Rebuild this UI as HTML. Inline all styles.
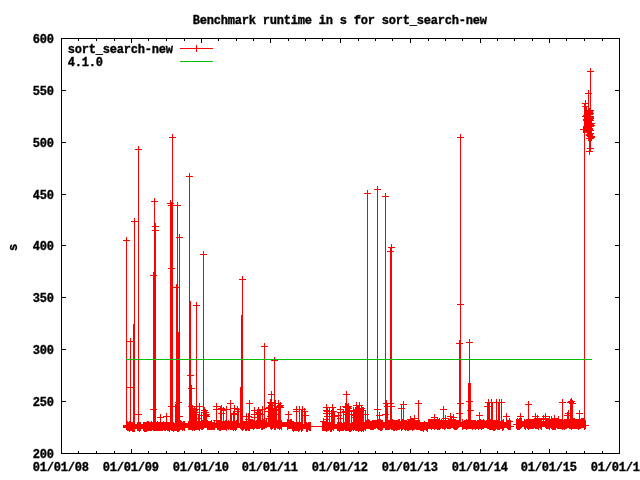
<!DOCTYPE html>
<html><head><meta charset="utf-8"><title>Benchmark runtime in s for sort_search-new</title>
<style>html,body{margin:0;padding:0;background:#fff}svg{display:block}text{fill:#000}</style></head>
<body>
<svg width="640" height="480" viewBox="0 0 640 480">
<rect width="640" height="480" fill="#ffffff"/>
<g shape-rendering="crispEdges" fill="none" stroke-width="1">
<path stroke="#ff0000" d="M123 240.5h7M126.5 237v7M126.5 240V427M127 341.5h7M130.5 338v7M130.5 341V427M131 221.5h7M134.5 218v7M134.5 221V427M135 149.5h7M138.5 146v7M138.5 149V427M135 414.5h7M138.5 411v7M138.5 414V427M150 275.5h7M153.5 272v7M153.5 275V427M150 409.5h7M153.5 406v7M153.5 409V427M151 201.5h7M154.5 198v7M154.5 201V427M152 226.5h7M155.5 223v7M155.5 226V427M152 230.5h7M155.5 227v7M155.5 230V427M157 417.5h7M160.5 414v7M160.5 417V427M163 416.5h7M166.5 413v7M166.5 416V427M167 203.5h7M170.5 200v7M170.5 203V427M168 205.5h7M171.5 202v7M171.5 205V427M169 137.5h7M172.5 134v7M172.5 137V427M168 268.5h7M171.5 265v7M171.5 268V427M168 406.5h7M171.5 403v7M171.5 406V427M173 287.5h7M176.5 284v7M176.5 287V427M174 205.5h7M177.5 202v7M177.5 205V427M175 402.5h7M178.5 399v7M178.5 402V427M176 237.5h7M179.5 234v7M179.5 237V427M176 416.5h7M179.5 413v7M179.5 416V427M186 176.5h7M189.5 173v7M189.5 176V426M187 375.5h7M190.5 372v7M190.5 375V426M188 388.5h7M191.5 385v7M191.5 388V426M189 408.5h7M192.5 405v7M192.5 408V426M193 305.5h7M196.5 302v7M196.5 305V426M200 254.5h7M203.5 251v7M203.5 254V426M191 410.5h7M194.5 407v7M194.5 410V426M193 412.5h7M196.5 409v7M196.5 412V426M196 406.5h7M199.5 403v7M199.5 406V426M198 415.5h7M201.5 412v7M201.5 415V426M201 410.5h7M204.5 407v7M204.5 410V426M203 416.5h7M206.5 413v7M206.5 416V426M195 418.5h7M198.5 415v7M198.5 418V426M213 406.5h7M216.5 403v7M216.5 406V426M213 420.5h7M216.5 417v7M216.5 420V426M217 409.5h7M220.5 406v7M220.5 409V426M220 410.5h7M223.5 407v7M223.5 410V426M223 409.5h7M226.5 406v7M226.5 409V426M227 403.5h7M230.5 400v7M230.5 403V426M230 414.5h7M233.5 411v7M233.5 414V426M234 409.5h7M237.5 406v7M237.5 409V426M235 411.5h7M238.5 408v7M238.5 411V426M239 279.5h7M242.5 276v7M242.5 279V426M243 416.5h7M246.5 413v7M246.5 416V426M246 403.5h7M249.5 400v7M249.5 403V426M251 410.5h7M254.5 407v7M254.5 410V425M254 412.5h7M257.5 409v7M257.5 412V425M259 409.5h7M262.5 406v7M262.5 409V425M256 413.5h7M259.5 410v7M259.5 413V425M261 346.5h7M264.5 343v7M264.5 346V425M268 394.5h7M271.5 391v7M271.5 394V425M271 360.5h7M274.5 357v7M274.5 360V425M265 408.5h7M268.5 405v7M268.5 408V425M267 402.5h7M270.5 399v7M270.5 402V425M269 405.5h7M272.5 402v7M272.5 405V425M272 403.5h7M275.5 400v7M275.5 403V425M275 403.5h7M278.5 400v7M278.5 403V425M277 407.5h7M280.5 404v7M280.5 407V425M273 410.5h7M276.5 407v7M276.5 410V425M270 412.5h7M273.5 409v7M273.5 412V425M285 414.5h7M288.5 411v7M288.5 414V425M293 409.5h7M296.5 406v7M296.5 409V427M296 409.5h7M299.5 406v7M299.5 409V427M299 409.5h7M302.5 406v7M302.5 409V427M302 415.5h7M305.5 412v7M305.5 415V427M320 421.5h7M323.5 418v7M323.5 421V427M323 407.5h7M326.5 404v7M326.5 407V427M323 410.5h7M326.5 407v7M326.5 410V427M323 413.5h7M326.5 410v7M326.5 413V427M324 416.5h7M327.5 413v7M327.5 416V427M326 411.5h7M329.5 408v7M329.5 411V427M329 407.5h7M332.5 404v7M332.5 407V427M328 413.5h7M331.5 410v7M331.5 413V427M330 416.5h7M333.5 413v7M333.5 416V427M335 415.5h7M338.5 412v7M338.5 415V427M337 418.5h7M340.5 415v7M340.5 418V427M342 406.5h7M345.5 403v7M345.5 406V427M343 394.5h7M346.5 391v7M346.5 394V427M345 406.5h7M348.5 403v7M348.5 406V427M340 412.5h7M343.5 409v7M343.5 412V427M346 411.5h7M349.5 408v7M349.5 411V427M343 414.5h7M346.5 411v7M346.5 414V427M350 410.5h7M353.5 407v7M353.5 410V427M353 405.5h7M356.5 402v7M356.5 405V427M356 405.5h7M359.5 402v7M359.5 405V427M358 408.5h7M361.5 405v7M361.5 408V427M359 410.5h7M362.5 407v7M362.5 410V427M354 412.5h7M357.5 409v7M357.5 412V427M362 414.5h7M365.5 411v7M365.5 414V427M364 193.5h7M367.5 190v7M367.5 193V425M374 189.5h7M377.5 186v7M377.5 189V425M374 409.5h7M377.5 406v7M377.5 409V425M376 415.5h7M379.5 412v7M379.5 415V425M382 196.5h7M385.5 193v7M385.5 196V425M382 414.5h7M385.5 411v7M385.5 414V425M383 403.5h7M386.5 400v7M386.5 403V425M384 406.5h7M387.5 403v7M387.5 406V425M387 251.5h7M390.5 248v7M390.5 251V425M388 247.5h7M391.5 244v7M391.5 247V425M387 403.5h7M390.5 400v7M390.5 403V425M388 406.5h7M391.5 403v7M391.5 406V425M398 408.5h7M401.5 405v7M401.5 408V425M400 404.5h7M403.5 401v7M403.5 404V425M411 418.5h7M414.5 415v7M414.5 418V425M407 419.5h7M410.5 416v7M410.5 419V425M415 403.5h7M418.5 400v7M418.5 403V425M431 417.5h7M434.5 414v7M434.5 417V424M440 409.5h7M443.5 406v7M443.5 409V425M442 418.5h7M445.5 415v7M445.5 418V425M447 416.5h7M450.5 413v7M450.5 416V425M450 417.5h7M453.5 414v7M453.5 417V425M456 343.5h7M459.5 340v7M459.5 343V425M456 413.5h7M459.5 410v7M459.5 413V425M457 137.5h7M460.5 134v7M460.5 137V425M457 304.5h7M460.5 301v7M460.5 304V425M457 403.5h7M460.5 400v7M460.5 403V425M466 342.5h7M469.5 339v7M469.5 342V425M466 401.5h7M469.5 398v7M469.5 401V425M467 410.5h7M470.5 407v7M470.5 410V425M476 415.5h7M479.5 412v7M479.5 415V425M484 406.5h7M487.5 403v7M487.5 406V425M485 402.5h7M488.5 399v7M488.5 402V425M488 402.5h7M491.5 399v7M491.5 402V425M493 402.5h7M496.5 399v7M496.5 402V425M496 402.5h7M499.5 399v7M499.5 402V425M498 402.5h7M501.5 399v7M501.5 402V425M503 416.5h7M506.5 413v7M506.5 416V425M506 421.5h7M509.5 418v7M509.5 421V425M517 416.5h7M520.5 413v7M520.5 416V424M525 404.5h7M528.5 401v7M528.5 404V424M532 416.5h7M535.5 413v7M535.5 416V424M534 418.5h7M537.5 415v7M537.5 418V424M542 416.5h7M545.5 413v7M545.5 416V424M548 419.5h7M551.5 416v7M551.5 419V424M551 418.5h7M554.5 415v7M554.5 418V424M555 419.5h7M558.5 416v7M558.5 419V424M559 402.5h7M562.5 399v7M562.5 402V424M564 415.5h7M567.5 412v7M567.5 415V424M565 413.5h7M568.5 410v7M568.5 413V424M567 402.5h7M570.5 399v7M570.5 402V424M568 401.5h7M571.5 398v7M571.5 401V424M569 403.5h7M572.5 400v7M572.5 403V424M576 413.5h7M579.5 410v7M579.5 413V424M133.5 324V427M175.5 404V427M178.5 332V427M190.5 301V426M241.5 315V426M240.5 387V426M468.5 383V425M470.5 383V425M584.5 103V424M489.5 402V425M492.5 402V425M498.5 402V425M126 387.5H134M191.5 406V426M188 406.5h7M191.5 403v7M193.5 408V426M190 415.5h7M193.5 412v7M195.5 414V426M192 414.5h7M195.5 411v7M196.5 406V426M193 406.5h7M196.5 403v7M193 409.5h7M196.5 406v7M204.5 410V426M201 410.5h7M204.5 407v7M205.5 412V426M202 412.5h7M205.5 409v7M202 415.5h7M205.5 412v7M206.5 414V426M203 414.5h7M206.5 411v7M216.5 409V426M213 409.5h7M216.5 406v7M221.5 408V426M218 408.5h7M221.5 405v7M218 413.5h7M221.5 410v7M230.5 416V426M231.5 414V426M234.5 408V426M231 408.5h7M234.5 405v7M231 413.5h7M234.5 410v7M248.5 416V426M245 416.5h7M248.5 413v7M245 419.5h7M248.5 416v7M254.5 414V425M251 414.5h7M254.5 411v7M251 417.5h7M254.5 414v7M258.5 410V425M255 410.5h7M258.5 407v7M260.5 414V425M257 414.5h7M260.5 411v7M268.5 411V425M265 411.5h7M268.5 408v7M265 418.5h7M268.5 415v7M269.5 404V425M266 407.5h7M269.5 404v7M270.5 411V425M267 411.5h7M270.5 408v7M267 416.5h7M270.5 413v7M271.5 403V425M268 403.5h7M271.5 400v7M272.5 409V425M269 409.5h7M272.5 406v7M269 414.5h7M272.5 411v7M273.5 411V425M270 411.5h7M273.5 408v7M275.5 407V425M272 414.5h7M275.5 411v7M276.5 409V425M273 409.5h7M276.5 406v7M279.5 406V425M276 406.5h7M279.5 403v7M280.5 405V425M277 405.5h7M280.5 402v7M296.5 411V427M293 411.5h7M296.5 408v7M301.5 410V427M304.5 411V427M301 411.5h7M304.5 408v7M326.5 414V427M323 419.5h7M326.5 416v7M327.5 411V427M324 411.5h7M327.5 408v7M329.5 411V427M326 411.5h7M329.5 408v7M332.5 416V427M333.5 411V427M330 411.5h7M333.5 408v7M334.5 411V427M331 416.5h7M334.5 413v7M340.5 409V427M337 409.5h7M340.5 406v7M337 412.5h7M340.5 409v7M345.5 406V427M342 406.5h7M345.5 403v7M342 411.5h7M345.5 408v7M346.5 407V427M343 407.5h7M346.5 404v7M343 414.5h7M346.5 411v7M347.5 407V427M344 407.5h7M347.5 404v7M348.5 408V427M345 408.5h7M348.5 405v7M351.5 414V427M348 414.5h7M351.5 411v7M353.5 414V427M350 414.5h7M353.5 411v7M354.5 414V427M351 414.5h7M354.5 411v7M351 417.5h7M354.5 414v7M355.5 410V427M352 410.5h7M355.5 407v7M352 415.5h7M355.5 412v7M356.5 412V427M353 412.5h7M356.5 409v7M357.5 409V427M354 409.5h7M357.5 406v7M354 414.5h7M357.5 411v7M358.5 408V427M355 408.5h7M358.5 405v7M360.5 410V427M361.5 408V427M358 408.5h7M361.5 405v7M363.5 407V427M532.5 419V424M543.5 418V424M540 418.5h7M543.5 415v7M545.5 423V424M542 423.5h7M545.5 420v7M542 419.5h7M545.5 416v7M547.5 418V424M549.5 421V424M546 419.5h7M549.5 416v7M552.5 423V426M549 425.5h7M552.5 422v7M451.5 419V425M448 419.5h7M451.5 416v7M582 103.5h7M585.5 100v7M582 106.5h7M585.5 103v7M585 93.5h7M588.5 90v7M587 71.5h7M590.5 68v7M587 148.5h7M590.5 145v7M586 151.5h7M589.5 148v7M580 129.5h7M583.5 126v7M587 110.5h7M590.5 107v7M586 111.5h7M589.5 108v7M586 112.5h7M589.5 109v7M586 114.5h7M589.5 111v7M586 113.5h7M589.5 110v7M583 115.5h7M586.5 112v7M583 116.5h7M586.5 113v7M587 113.5h7M590.5 110v7M587 117.5h7M590.5 114v7M583 115.5h7M586.5 112v7M587 116.5h7M590.5 113v7M586 118.5h7M589.5 115v7M582 116.5h7M585.5 113v7M584 117.5h7M587.5 114v7M583 120.5h7M586.5 117v7M587 120.5h7M590.5 117v7M584 119.5h7M587.5 116v7M587 118.5h7M590.5 115v7M586 119.5h7M589.5 116v7M583 119.5h7M586.5 116v7M585 122.5h7M588.5 119v7M583 120.5h7M586.5 117v7M585 122.5h7M588.5 119v7M588 123.5h7M591.5 120v7M587 124.5h7M590.5 121v7M584 124.5h7M587.5 121v7M585 123.5h7M588.5 120v7M586 124.5h7M589.5 121v7M584 125.5h7M587.5 122v7M586 128.5h7M589.5 125v7M588 125.5h7M591.5 122v7M586 129.5h7M589.5 126v7M587 126.5h7M590.5 123v7M587 130.5h7M590.5 127v7M587 130.5h7M590.5 127v7M585 128.5h7M588.5 125v7M584 131.5h7M587.5 128v7M585 130.5h7M588.5 127v7M585 130.5h7M588.5 127v7M585 131.5h7M588.5 128v7M587 133.5h7M590.5 130v7M585 132.5h7M588.5 129v7M586 134.5h7M589.5 131v7M586 134.5h7M589.5 131v7M586 135.5h7M589.5 132v7M588 136.5h7M591.5 133v7M588 137.5h7M591.5 134v7M588 137.5h7M591.5 134v7M586 138.5h7M589.5 135v7M587 138.5h7M590.5 135v7M590.5 71V141M588.5 93V141M585.5 103V131M586.5 106V133M590.5 138V149M589.5 138V152M584 110.5H591M584 111.5H591M585 112.5H591M585 113.5H591M585 114.5H591M585 115.5H591M585 116.5H591M585 117.5H591M585 118.5H591M585 119.5H591M586 120.5H591M586 121.5H591M586 122.5H591M586 123.5H592M586 124.5H592M586 125.5H592M586 126.5H592M586 127.5H592M586 128.5H592M587 129.5H592M587 130.5H592M587 131.5H592M587 132.5H592M587 133.5H592M587 134.5H592M587 135.5H592M587 136.5H593M588 137.5H593M588 138.5H593"/>
<path stroke="#ff0000" d="M126.5 423V430M127.5 421V431M128.5 422V431M129.5 421V432M130.5 422V431M131.5 422V431M132.5 422V432M133.5 421V432M134.5 422V432M135.5 424V429M136.5 424V429M137.5 422V431M138.5 421V431M139.5 422V432M140.5 422V431M141.5 424V429M142.5 424V429M143.5 422V431M144.5 422V432M145.5 422V432M146.5 422V432M147.5 421V431M148.5 421V431M149.5 422V431M150.5 422V431M151.5 421V431M152.5 422V430M153.5 422V431M154.5 422V431M155.5 422V431M156.5 422V431M157.5 421V431M158.5 422V431M159.5 422V431M160.5 422V431M161.5 422V431M162.5 422V431M163.5 421V430M164.5 422V431M165.5 422V431M166.5 422V430M167.5 422V431M168.5 422V431M169.5 422V432M170.5 421V430M171.5 421V431M172.5 422V431M173.5 422V432M174.5 423V431M175.5 421V431M176.5 421V431M177.5 422V432M178.5 422V432M179.5 422V431M180.5 420V430M181.5 421V430M182.5 422V431M183.5 421V430M184.5 421V431M185.5 423V428M186.5 423V428M187.5 423V428M188.5 421V430M189.5 421V430M190.5 421V430M191.5 420V430M192.5 422V431M193.5 421V430M194.5 421V431M195.5 421V430M196.5 421V430M197.5 421V430M198.5 421V430M199.5 421V431M200.5 421V429M201.5 421V430M202.5 420V430M203.5 420V429M204.5 423V428M205.5 423V428M206.5 423V428M207.5 420V430M208.5 421V430M209.5 421V430M210.5 421V430M211.5 420V430M212.5 422V430M213.5 422V430M214.5 421V430M215.5 423V428M216.5 423V428M217.5 420V430M218.5 421V430M219.5 421V431M220.5 421V431M221.5 420V430M222.5 421V430M223.5 421V430M224.5 421V430M225.5 420V430M226.5 421V431M227.5 421V429M228.5 420V430M229.5 421V429M230.5 422V430M231.5 420V430M232.5 421V430M233.5 421V431M234.5 421V430M235.5 421V431M236.5 420V430M237.5 423V428M238.5 423V428M239.5 423V428M240.5 421V429M241.5 421V430M242.5 422V431M243.5 421V430M244.5 421V429M245.5 421V431M246.5 420V431M247.5 421V430M248.5 421V431M249.5 422V431M250.5 420V429M251.5 420V429M252.5 419V429M253.5 420V430M254.5 420V429M255.5 421V428M256.5 420V429M257.5 420V429M258.5 420V429M259.5 419V429M260.5 421V428M261.5 420V430M262.5 420V430M263.5 419V429M264.5 420V429M265.5 420V428M266.5 419V428M267.5 422V427M268.5 422V427M269.5 422V427M270.5 420V429M271.5 421V430M272.5 419V429M273.5 420V428M274.5 421V430M275.5 421V430M276.5 421V428M277.5 420V429M278.5 420V429M279.5 421V430M280.5 419V429M281.5 420V430M282.5 422V427M283.5 422V427M284.5 422V427M285.5 422V427M286.5 422V427M287.5 419V430M288.5 420V429M289.5 420V429M290.5 419V429M291.5 419V429M292.5 421V431M293.5 421V432M294.5 422V431M295.5 422V431M296.5 422V431M297.5 422V431M298.5 422V432M299.5 421V431M300.5 422V430M301.5 422V432M302.5 423V431M303.5 424V429M304.5 424V429M305.5 424V429M306.5 422V432M307.5 423V432M308.5 422V430M309.5 422V431M310.5 422V431M322.5 422V431M323.5 422V431M324.5 422V431M325.5 422V431M326.5 421V432M327.5 422V431M328.5 422V431M329.5 422V430M330.5 422V432M331.5 422V432M332.5 422V430M333.5 422V431M334.5 424V429M335.5 424V429M336.5 424V429M337.5 422V431M338.5 422V431M339.5 422V432M340.5 421V431M341.5 422V431M342.5 423V431M343.5 422V431M344.5 422V430M345.5 421V431M346.5 422V431M347.5 422V431M348.5 422V431M349.5 421V432M350.5 423V432M351.5 422V431M352.5 422V430M353.5 422V431M354.5 422V430M355.5 422V431M356.5 422V431M357.5 422V431M358.5 422V432M359.5 422V431M360.5 422V431M361.5 421V432M362.5 422V431M363.5 421V432M364.5 422V430M365.5 422V431M366.5 420V429M367.5 421V429M368.5 419V429M369.5 420V429M370.5 421V430M371.5 421V430M372.5 420V430M373.5 420V430M374.5 420V429M375.5 420V429M376.5 420V428M377.5 420V429M378.5 419V430M379.5 420V430M380.5 419V431M381.5 420V431M382.5 420V430M383.5 422V428M384.5 422V428M385.5 420V430M386.5 419V430M387.5 419V430M388.5 420V430M389.5 420V430M390.5 420V429M391.5 421V430M392.5 419V430M393.5 420V431M394.5 420V431M395.5 420V430M396.5 420V431M397.5 420V430M398.5 419V430M399.5 419V430M400.5 421V429M401.5 420V431M402.5 419V430M403.5 420V429M404.5 420V430M405.5 420V431M406.5 420V430M407.5 421V431M408.5 420V431M409.5 420V430M410.5 420V430M411.5 420V430M412.5 420V431M413.5 420V430M414.5 420V430M415.5 420V429M416.5 420V430M417.5 420V430M418.5 420V430M419.5 420V430M420.5 422V431M421.5 422V431M422.5 422V431M423.5 422V432M424.5 421V430M425.5 422V430M426.5 422V431M427.5 422V432M428.5 419V429M429.5 419V429M430.5 419V429M431.5 419V430M432.5 419V429M433.5 419V429M434.5 418V430M435.5 419V429M436.5 419V429M437.5 418V430M438.5 419V430M439.5 418V430M440.5 420V429M441.5 419V428M442.5 420V429M443.5 421V429M444.5 420V430M445.5 419V429M446.5 420V428M447.5 420V429M448.5 420V429M449.5 420V429M450.5 419V429M451.5 419V428M452.5 420V428M453.5 420V429M454.5 420V430M455.5 419V430M456.5 420V430M457.5 420V429M458.5 420V428M459.5 422V427M460.5 422V427M461.5 422V427M462.5 419V430M463.5 421V429M464.5 420V429M465.5 420V429M466.5 419V430M467.5 420V429M468.5 420V429M469.5 420V429M470.5 420V429M471.5 420V429M472.5 420V430M473.5 420V429M474.5 420V429M475.5 420V430M476.5 421V429M477.5 420V429M478.5 420V430M479.5 421V429M480.5 419V429M481.5 420V430M482.5 420V429M483.5 419V429M484.5 420V428M485.5 421V428M486.5 420V428M487.5 420V429M488.5 420V429M489.5 419V430M490.5 419V430M491.5 420V430M492.5 421V430M493.5 420V431M494.5 420V431M495.5 420V430M496.5 420V429M497.5 420V430M498.5 421V430M499.5 419V430M500.5 421V429M501.5 420V429M502.5 420V431M503.5 419V430M504.5 422V428M505.5 422V428M506.5 422V428M507.5 420V429M508.5 420V430M509.5 421V430M510.5 420V430M516.5 419V429M517.5 418V430M518.5 419V430M519.5 418V430M520.5 419V429M521.5 418V428M522.5 421V427M523.5 421V427M524.5 419V429M525.5 420V430M526.5 419V428M527.5 419V429M528.5 418V430M529.5 419V429M530.5 419V429M531.5 419V429M532.5 419V429M533.5 419V429M534.5 419V428M535.5 419V429M536.5 419V429M537.5 419V429M538.5 418V430M539.5 419V428M540.5 418V429M541.5 418V430M542.5 421V427M543.5 421V427M544.5 421V427M545.5 419V428M546.5 420V429M547.5 419V429M548.5 418V429M549.5 419V430M550.5 419V428M551.5 419V429M552.5 419V430M553.5 420V430M554.5 419V430M555.5 419V430M556.5 419V428M557.5 419V429M558.5 419V429M559.5 419V429M560.5 419V429M561.5 419V429M562.5 420V430M563.5 420V429M564.5 419V430M565.5 419V429M566.5 419V429M567.5 419V428M568.5 420V428M569.5 419V429M570.5 419V429M571.5 418V430M572.5 419V429M573.5 418V429M574.5 418V429M575.5 419V429M576.5 419V429M577.5 419V429M578.5 419V430M579.5 419V429M580.5 419V429M581.5 418V428M582.5 418V428M583.5 418V428M584.5 419V430M585.5 420V429M123 425.5H127M123 426.5H127M123 427.5H127M310 426.5H323M510 426.5H514M513 424.5H518M585 425.5H589"/>
<path stroke="#ff0000" d="M180 48.5H213M193 48.5h7M196.5 45v7"/>
<path stroke="#00c000" d="M126 359.5H592M180 61.5H213"/>
<path stroke="#000000" d="M61 38.5H620M61 453.5H620M61.5 38V454M619.5 38V454M61 453.5H66M615 453.5H620M61 401.5H66M615 401.5H620M61 349.5H66M615 349.5H620M61 297.5H66M615 297.5H620M61 245.5H66M615 245.5H620M61 194.5H66M615 194.5H620M61 142.5H66M615 142.5H620M61 90.5H66M615 90.5H620M61 38.5H66M615 38.5H620M61.5 449V454M61.5 38V43M131.5 449V454M131.5 38V43M201.5 449V454M201.5 38V43M270.5 449V454M270.5 38V43M340.5 449V454M340.5 38V43M410.5 449V454M410.5 38V43M480.5 449V454M480.5 38V43M549.5 449V454M549.5 38V43M619.5 449V454M619.5 38V43M78.5 451V454M78.5 38V41M96.5 451V454M96.5 38V41M114.5 451V454M114.5 38V41M148.5 451V454M148.5 38V41M166.5 451V454M166.5 38V41M184.5 451V454M184.5 38V41M218.5 451V454M218.5 38V41M236.5 451V454M236.5 38V41M253.5 451V454M253.5 38V41M288.5 451V454M288.5 38V41M305.5 451V454M305.5 38V41M322.5 451V454M322.5 38V41M358.5 451V454M358.5 38V41M375.5 451V454M375.5 38V41M392.5 451V454M392.5 38V41M428.5 451V454M428.5 38V41M445.5 451V454M445.5 38V41M462.5 451V454M462.5 38V41M497.5 451V454M497.5 38V41M514.5 451V454M514.5 38V41M532.5 451V454M532.5 38V41M566.5 451V454M566.5 38V41M584.5 451V454M584.5 38V41M602.5 451V454M602.5 38V41"/>
</g>
<g font-family="Liberation Mono, DejaVu Sans Mono, monospace" font-weight="bold" font-size="12px" letter-spacing="-0.2px" stroke="#000" stroke-width="0.35">
<text x="192.7" y="24" >Benchmark runtime in s for sort_search-new</text>
<text x="32.7" y="457.8" >200</text>
<text x="32.7" y="405.8" >250</text>
<text x="32.7" y="353.8" >300</text>
<text x="32.7" y="301.8" >350</text>
<text x="32.7" y="249.8" >400</text>
<text x="32.7" y="198.8" >450</text>
<text x="32.7" y="146.8" >500</text>
<text x="32.7" y="94.8" >550</text>
<text x="32.7" y="42.8" >600</text>
<text x="32.7" y="471.3" >01/01/08</text>
<text x="102.7" y="471.3" >01/01/09</text>
<text x="172.7" y="471.3" >01/01/10</text>
<text x="241.7" y="471.3" >01/01/11</text>
<text x="311.7" y="471.3" >01/01/12</text>
<text x="381.7" y="471.3" >01/01/13</text>
<text x="451.7" y="471.3" >01/01/14</text>
<text x="520.7" y="471.3" >01/01/15</text>
<text x="590.7" y="471.3" >01/01/16</text>
<text x="67.7" y="53" >sort_search-new</text>
<text x="67.7" y="66" >4.1.0</text>
<text transform="translate(16.8,251) rotate(-90)">s</text>
</g>
</svg>
</body></html>
